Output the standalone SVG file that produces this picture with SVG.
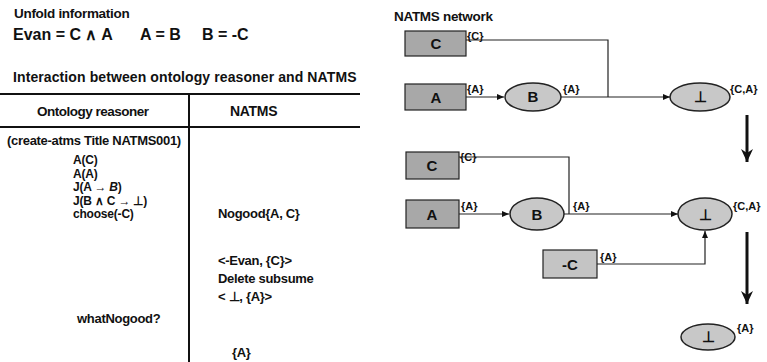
<svg xmlns="http://www.w3.org/2000/svg" width="767" height="362" viewBox="0 0 767 362">
<defs>
<style>
text{font-family:"Liberation Sans",Arial,sans-serif;font-weight:bold;fill:#111}
.t{font-size:13px;letter-spacing:-0.3px}
.r{font-size:12px;letter-spacing:-0.2px}
.h{font-size:16px}
.lbl{font-size:11px}
.nd{font-size:15px;text-anchor:middle}
.rect{fill:#a8a8a8;stroke:#222;stroke-width:1.2}
.rect2{fill:#c4c4c4;stroke:#222;stroke-width:1.2}
.ell{fill:#c8c8c8;stroke:#222;stroke-width:1.5}
.ln{fill:none;stroke:#222;stroke-width:1.2}
.big{fill:none;stroke:#111;stroke-width:3}
.tab{stroke:#111;stroke-width:2}
</style>
<marker id="ah" markerWidth="8" markerHeight="8" refX="7" refY="4" orient="auto" markerUnits="userSpaceOnUse">
<path d="M0,1 L7,4 L0,7 Z" fill="#111"/>
</marker>
<marker id="bh" markerWidth="14" markerHeight="14" refX="13" refY="7" orient="auto" markerUnits="userSpaceOnUse">
<path d="M0,1 L13,7 L0,13 L4,7 Z" fill="#111"/>
</marker>
</defs>

<g id="left-text">
<text class="t" x="14" y="18" style="font-size:13.5px">Unfold information</text>
<text class="h" x="13" y="40">Evan = C ∧ A</text>
<text class="h" x="140" y="40">A = B</text>
<text class="h" x="202" y="40">B = -C</text>
<text class="t" x="13" y="82" style="font-size:14px;letter-spacing:0.1px">Interaction between ontology reasoner and NATMS</text>
</g>

<g id="table">
<line class="tab" x1="0" y1="94" x2="360" y2="94"/>
<line class="tab" x1="0" y1="127" x2="360" y2="127"/>
<line class="tab" x1="189" y1="94" x2="189" y2="362"/>
<text class="t" x="37" y="116" style="font-size:13.5px;letter-spacing:-0.5px">Ontology reasoner</text>
<text class="t" x="230" y="116" style="font-size:14px">NATMS</text>
<text class="t" x="7" y="145">(create-atms Title NATMS001)</text>
<text class="r" x="73" y="164">A(C)</text>
<text class="r" x="73" y="177.5">A(A)</text>
<text class="r" x="73" y="191">J(A → <tspan font-style="italic">B</tspan>)</text>
<text class="r" x="73" y="204.5">J(B ∧ C → ⊥)</text>
<text class="r" x="73" y="218">choose(-C)</text>
<text class="t" x="77" y="323">whatNogood?</text>
<text class="t" x="218" y="218">Nogood{A, C}</text>
<text class="t" x="218" y="265">&lt;-Evan, {C}&gt;</text>
<text class="t" x="218" y="283">Delete subsume</text>
<text class="t" x="218" y="301">&lt; ⊥, {A}&gt;</text>
<text class="t" x="232" y="357">{A}</text>
</g>

<text class="t" x="394" y="21" style="font-size:13.5px">NATMS network</text>

<g id="connectors">
<polyline class="ln" points="466,40 608,40 608,97"/>
<line class="ln" x1="466" y1="97" x2="504" y2="97" marker-end="url(#ah)"/>
<line class="ln" x1="561" y1="97" x2="670" y2="97" marker-end="url(#ah)"/>
<polyline class="ln" points="459,157 569,157 569,214"/>
<line class="ln" x1="459" y1="214" x2="509" y2="214" marker-end="url(#ah)"/>
<line class="ln" x1="564" y1="214" x2="678" y2="214" marker-end="url(#ah)"/>
<polyline class="ln" points="597,264 705,264 705,231" marker-end="url(#ah)"/>
<line class="big" x1="747" y1="115" x2="747" y2="162" marker-end="url(#bh)"/>
<line class="big" x1="747" y1="232" x2="747" y2="304" marker-end="url(#bh)"/>
</g>

<g id="net1-C">
<rect class="rect" x="405" y="31" width="61" height="25"/>
<text class="nd" x="436" y="49">C</text>
<text class="lbl" x="467" y="40">{C}</text>
</g>
<g id="net1-A">
<rect class="rect" x="405" y="84" width="61" height="26"/>
<text class="nd" x="436" y="103">A</text>
<text class="lbl" x="467" y="93">{A}</text>
</g>
<g id="net1-B">
<ellipse class="ell" cx="533" cy="97" rx="28" ry="14"/>
<text class="nd" x="533" y="102">B</text>
<text class="lbl" x="563" y="93">{A}</text>
</g>
<g id="net1-bot">
<ellipse class="ell" cx="700" cy="97" rx="30" ry="14"/>
<text class="nd" x="700" y="102">⊥</text>
<text class="lbl" x="730" y="93">{C,A}</text>
</g>

<g id="net2-C">
<rect class="rect" x="406" y="152" width="53" height="27"/>
<text class="nd" x="432" y="171">C</text>
<text class="lbl" x="460" y="161">{C}</text>
</g>
<g id="net2-A">
<rect class="rect" x="406" y="200" width="53" height="28"/>
<text class="nd" x="432" y="220">A</text>
<text class="lbl" x="461" y="210">{A}</text>
</g>
<g id="net2-B">
<ellipse class="ell" cx="537" cy="214" rx="27" ry="16"/>
<text class="nd" x="537" y="220">B</text>
<text class="lbl" x="573" y="210">{A}</text>
</g>
<g id="net2-bot">
<ellipse class="ell" cx="705" cy="214" rx="27" ry="16"/>
<text class="nd" x="705" y="220">⊥</text>
<text class="lbl" x="733" y="210">{C,A}</text>
</g>
<g id="net2-notC">
<rect class="rect2" x="543" y="250" width="54" height="28"/>
<text class="nd" x="570" y="270">-C</text>
<text class="lbl" x="600" y="261">{A}</text>
</g>

<g id="net3-bot">
<ellipse class="ell" cx="708" cy="337" rx="27" ry="13"/>
<text class="nd" x="708" y="342">⊥</text>
<text class="lbl" x="737" y="332">{A}</text>
</g>
</svg>
